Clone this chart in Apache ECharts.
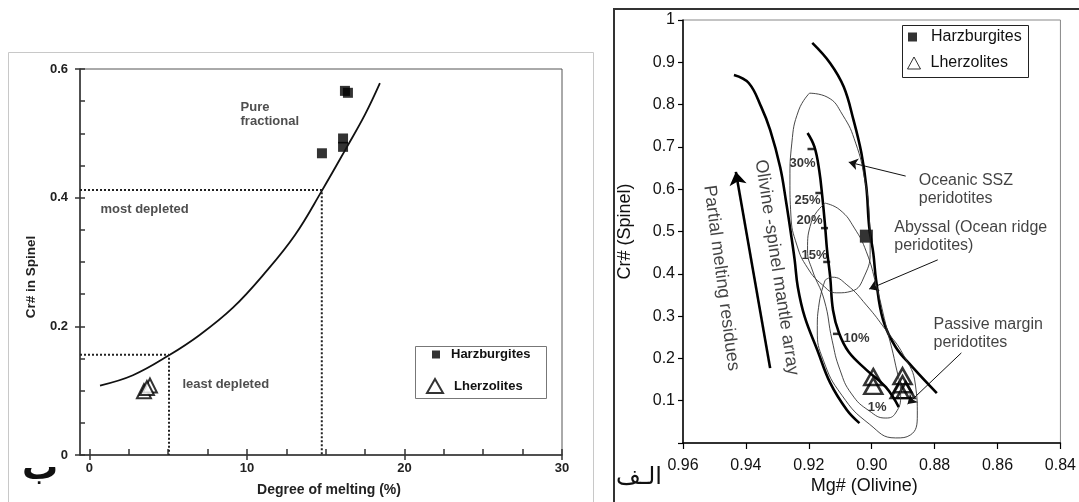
<!DOCTYPE html>
<html><head><meta charset="utf-8">
<script src="https://cdn.jsdelivr.net/npm/echarts@6/dist/echarts.min.js"></script>
<style>html,body{margin:0;padding:0;background:#fff;}#c{width:1079px;height:502px;}</style>
</head><body><div id="c"></div>
<script>
const FONT = "'Liberation Sans', Arial, Helvetica, sans-serif";
const AR_FONT = "'DejaVu Sans', sans-serif";

// ---------- Panel ب (left): Cr# in spinel vs degree of melting ----------
const meltXLabels = [0, 10, 20, 30];
const meltXTicks = [0, 2.5, 5, 7.5, 10, 12.5, 15, 17.5, 20, 22.5, 25, 27.5, 30];
const crYLabels = [0, 0.2, 0.4, 0.6];
const crYTicks = [0, 0.05, 0.1, 0.15, 0.2, 0.25, 0.3, 0.35, 0.4, 0.45, 0.5, 0.55, 0.6];
const fractionalCurve = [[0.67,0.108],[2.76,0.124],[5.05,0.155],[7.02,0.187],[9.11,0.229],[11.14,0.283],[13.05,0.342],[14.76,0.411],[16.35,0.479],[17.49,0.529],[18.44,0.578]];
const mostDepleted = [[-0.6,0.412],[14.75,0.412],[14.75,0]];
const leastDepleted = [[-0.6,0.156],[5.05,0.156],[5.05,0]];
const harzLeft = [[16.22,0.566],[16.41,0.563],[14.76,0.469],[16.10,0.492],[16.10,0.479]];
const lherzLeft = [[3.46,0.099],[3.84,0.108],[3.65,0.104]];
const leftNotes = [
  {text: 'Pure\nfractional', pos: [9.56, 0.529]},
  {text: 'most depleted', pos: [0.67, 0.382]},
  {text: 'least depleted', pos: [5.87, 0.110]}
];

// ---------- Panel الف (right): Cr# (spinel) vs Mg# (olivine) ----------
const mgLabels = [0.84, 0.86, 0.88, 0.90, 0.92, 0.94, 0.96];
const crLabels = [0.1, 0.2, 0.3, 0.4, 0.5, 0.6, 0.7, 0.8, 0.9, 1];
const osmaLeft = [[0.9438,0.870],[0.9391,0.851],[0.9351,0.794],[0.9323,0.740],[0.9291,0.652],[0.9273,0.574],[0.9257,0.496],[0.9245,0.433],[0.9235,0.369],[0.9213,0.298],[0.9173,0.220],[0.9132,0.142],[0.9079,0.078],[0.9039,0.047]];
const osmaRight = [[0.9189,0.946],[0.9132,0.898],[0.9089,0.842],[0.9058,0.764],[0.9033,0.686],[0.9017,0.605],[0.9008,0.511],[0.8995,0.449],[0.8986,0.385],[0.8964,0.291],[0.8924,0.227],[0.8871,0.180],[0.8793,0.118]];
const meltingTrend = [[0.9204,0.733],[0.9182,0.700],[0.9167,0.645],[0.9157,0.582],[0.9148,0.511],[0.9142,0.456],[0.9132,0.392],[0.9123,0.314],[0.9104,0.260],[0.9073,0.215],[0.9017,0.173],[0.8955,0.132],[0.8914,0.085]];
const fieldSSZ = [[0.9198,0.827],[0.9142,0.818],[0.9092,0.775],[0.9051,0.709],[0.9023,0.626],[0.9008,0.539],[0.9005,0.456],[0.9023,0.395],[0.9064,0.359],[0.9111,0.355],[0.9157,0.374],[0.9204,0.414],[0.9238,0.468],[0.9257,0.539],[0.9260,0.622],[0.9254,0.709],[0.9232,0.787],[0.9198,0.827]];
const fieldAbyssal = [[0.9148,0.567],[0.9101,0.551],[0.9055,0.508],[0.9017,0.452],[0.8986,0.374],[0.8955,0.279],[0.8924,0.184],[0.8908,0.113],[0.8924,0.071],[0.8955,0.059],[0.9008,0.076],[0.9064,0.116],[0.9101,0.173],[0.9126,0.243],[0.9151,0.338],[0.9189,0.409],[0.9204,0.456],[0.9192,0.522],[0.9148,0.567]];
const fieldPassive = [[0.9148,0.385],[0.9167,0.331],[0.9173,0.267],[0.9154,0.196],[0.9095,0.113],[0.9008,0.045],[0.8924,0.012],[0.8877,0.019],[0.8855,0.066],[0.8861,0.137],[0.8899,0.208],[0.8955,0.267],[0.9017,0.326],[0.9079,0.374],[0.9126,0.392],[0.9148,0.385]];
const harzRight = [[0.9017,0.489]];
const lherzRight = [[0.8995,0.156],[0.8995,0.135],[0.8902,0.158],[0.8902,0.139],[0.8911,0.125],[0.8892,0.125]];
const meltTickMarks = [[0.9182,0.695],[0.9157,0.591],[0.9139,0.508],[0.9132,0.428],[0.9101,0.258]];
const meltPctLabels = ['30%','25%','20%','15%','10%','1%'];
const meltPctPos = [[0.9220,0.662],[0.9204,0.574],[0.9198,0.527],[0.9182,0.444],[0.9048,0.248],[0.8983,0.083]];
const trendArrow = [[0.9323,0.177],[0.9432,0.641]];
const fieldArrows = [
  [[0.8892,0.631],[0.9073,0.664]],
  [[0.8790,0.433],[0.9008,0.364]],
  [[0.8715,0.213],[0.8886,0.092]]
];
const fieldNotes = [
  {text: 'Oceanic SSZ\nperidotites', pos: [0.8852, 0.599]},
  {text: 'Abyssal (Ocean ridge\nperidotites)', pos: [0.8930, 0.487]},
  {text: 'Passive margin\nperidotites', pos: [0.8805, 0.258]}
];
const rotatedNotes = [
  {text: 'Olivine -spinel mantle array', pos: [0.9302, 0.415], rot: -81.4},
  {text: 'Partial melting residues', pos: [0.9478, 0.390], rot: -82.5}
];

const chart = echarts.init(document.getElementById('c'), null, {renderer: 'canvas'});
const blk = '#111';
const leftTxt = {fontFamily: FONT, fontWeight: 'bold', fontSize: 13, color: '#222'};
const rightTxt = {fontFamily: FONT, fontSize: 16, color: blk};

const option = {
  backgroundColor: '#fff',
  animation: false,
  grid: [
    {left: 80, top: 69, width: 482, height: 388, show: true, borderColor: '#555', borderWidth: 1, backgroundColor: 'transparent'},
    {left: 683, top: 20, width: 385, height: 423, show: true, borderColor: '#888', borderWidth: 1, backgroundColor: 'transparent'}
  ],
  xAxis: [
    {gridIndex: 0, type: 'value', min: -0.6, max: 30, position: 'bottom',
     name: 'Degree of melting (%)', nameLocation: 'middle', nameGap: 28, nameMoveOverlap: false,
     nameTextStyle: Object.assign({}, leftTxt, {fontSize: 14, padding: [0,0,0,16]}),
     axisLine: {show: true, onZero: false, lineStyle: {color: '#333', width: 1.5}},
     axisTick: {show: true, inside: true, length: 6, customValues: meltXTicks, lineStyle: {color: '#333', width: 1.5}},
     axisLabel: Object.assign({show: true, margin: 7, customValues: meltXLabels, formatter: v => String(v)}, leftTxt),
     splitLine: {show: false}},
    {gridIndex: 0, type: 'value', min: -0.6, max: 30, position: 'bottom',
     axisLine: {show: false, onZero: false},
     axisTick: {show: true, inside: false, length: 5, customValues: meltXLabels, lineStyle: {color: '#333', width: 1.5}},
     axisLabel: {show: false}, splitLine: {show: false}},
    {gridIndex: 1, type: 'value', min: 0.84, max: 0.96, interval: 0.02, inverse: true, position: 'bottom',
     name: 'Mg# (Olivine)', nameLocation: 'middle', nameGap: 34, nameMoveOverlap: false,
     nameTextStyle: {fontFamily: FONT, fontSize: 18, color: blk, padding: [0,15,0,0]},
     axisLine: {show: true, onZero: false, lineStyle: {color: '#000', width: 1.5}},
     axisTick: {show: true, inside: false, length: 6, lineStyle: {color: '#000', width: 1.2}},
     axisLabel: Object.assign({margin: 15, formatter: v => v.toFixed(2)}, rightTxt),
     splitLine: {show: false}}
  ],
  yAxis: [
    {gridIndex: 0, type: 'value', min: 0, max: 0.6, position: 'left',
     name: 'Cr# in Spinel', nameLocation: 'middle', nameGap: 42, nameMoveOverlap: false,
     nameTextStyle: Object.assign({}, leftTxt, {fontSize: 13.5, padding: [0,30,0,0]}),
     axisLine: {show: true, onZero: false, lineStyle: {color: '#333', width: 1.5}},
     axisTick: {show: true, inside: true, length: 5, customValues: crYTicks, lineStyle: {color: '#333', width: 1.5}},
     axisLabel: Object.assign({margin: 12, customValues: crYLabels, formatter: v => (v === 0 ? '0' : v.toFixed(1))}, leftTxt),
     splitLine: {show: false}},
    {gridIndex: 0, type: 'value', min: 0, max: 0.6, position: 'left',
     axisLine: {show: false, onZero: false},
     axisTick: {show: true, inside: false, length: 5, customValues: crYLabels, lineStyle: {color: '#333', width: 1.5}},
     axisLabel: {show: false}, splitLine: {show: false}},
    {gridIndex: 1, type: 'value', min: 0, max: 1, interval: 0.1, position: 'left',
     name: 'Cr# (Spinel)', nameLocation: 'middle', nameGap: 49, nameMoveOverlap: false,
     nameTextStyle: {fontFamily: FONT, fontSize: 18, color: blk},
     axisLine: {show: true, onZero: false, lineStyle: {color: '#000', width: 1.5}},
     axisTick: {show: true, inside: false, length: 5, lineStyle: {color: '#000', width: 1.2}},
     axisLabel: Object.assign({margin: 8, formatter: v => (v === 0 ? '' : (Math.abs(v - 1) < 1e-9 ? '1' : v.toFixed(1)))}, rightTxt),
     splitLine: {show: false}}
  ],
  legend: [
    {left: 432, top: 348, padding: 0, itemWidth: 8, itemHeight: 8, selectedMode: false,
     data: [{name: 'Harzburgites', icon: 'rect', itemStyle: {color: '#000', borderWidth: 0}}],
     textStyle: Object.assign({}, leftTxt, {color: '#111', padding: [0,0,0,6]})},
    {left: 426, top: 378, padding: 0, itemWidth: 16, itemHeight: 14, selectedMode: false,
     data: [{name: 'Lherzolites', icon: 'triangle', itemStyle: {color: '#fff', borderColor: '#000', borderWidth: 2}}],
     textStyle: Object.assign({}, leftTxt, {color: '#111', padding: [0,0,0,6]})},
    {left: 908, top: 29, padding: 0, itemWidth: 9, itemHeight: 9, selectedMode: false,
     data: [{name: 'Harzburgites', icon: 'rect', itemStyle: {color: '#000', borderWidth: 0}}],
     textStyle: Object.assign({}, rightTxt, {padding: [0,0,0,9]})},
    {left: 907, top: 55, padding: 0, itemWidth: 13, itemHeight: 12, selectedMode: false,
     data: [{name: 'Lherzolites', icon: 'triangle', itemStyle: {color: '#fff', borderColor: '#000', borderWidth: 1}}],
     textStyle: Object.assign({}, rightTxt, {padding: [0,0,0,5]})}
  ],
  graphic: [
    {type: 'rect', z: -10, shape: {x: 8.5, y: 52.5, width: 585, height: 480}, style: {fill: 'none', stroke: '#c8c8c8', lineWidth: 1}},
    {type: 'rect', z: -10, shape: {x: 614, y: 9, width: 480, height: 520}, style: {fill: 'none', stroke: '#333', lineWidth: 2}},
    {type: 'rect', z: 5, shape: {x: 415.5, y: 346.5, width: 131, height: 52}, style: {fill: 'none', stroke: '#777', lineWidth: 1}},
    {type: 'rect', z: 5, shape: {x: 902.5, y: 25.5, width: 126, height: 52}, style: {fill: 'none', stroke: '#222', lineWidth: 1}},
    {type: 'text', z: 10, x: 40, y: 470, style: {text: 'ب', font: 'bold 36px ' + AR_FONT, fill: '#111', align: 'center', verticalAlign: 'middle'}},
    {type: 'text', z: 10, x: 639, y: 478, style: {text: 'الـف', font: '24px ' + AR_FONT, fill: '#111', align: 'center', verticalAlign: 'middle'}}
  ],
  series: [
    // ----- left panel -----
    {type: 'line', name: 'Pure fractional', xAxisIndex: 0, yAxisIndex: 0, data: fractionalCurve, smooth: 0.4, symbol: 'none', lineStyle: {color: '#111', width: 1.8}},
    {type: 'line', name: 'most depleted', xAxisIndex: 0, yAxisIndex: 0, data: mostDepleted, symbol: 'none', lineStyle: {color: '#222', width: 2, type: [2, 2]}},
    {type: 'line', name: 'least depleted', xAxisIndex: 0, yAxisIndex: 0, data: leastDepleted, symbol: 'none', lineStyle: {color: '#222', width: 2, type: [2, 2]}},
    {type: 'scatter', name: 'Harzburgites', xAxisIndex: 0, yAxisIndex: 0, data: harzLeft, symbol: 'rect', symbolSize: 10, itemStyle: {color: '#000'}},
    {type: 'scatter', name: 'Lherzolites', xAxisIndex: 0, yAxisIndex: 0, data: lherzLeft, symbol: 'triangle', symbolSize: 14, itemStyle: {color: '#fff', borderColor: '#000', borderWidth: 2}},
    {type: 'scatter', name: 'leftNotes', xAxisIndex: 0, yAxisIndex: 0, symbolSize: 1, itemStyle: {color: 'rgba(0,0,0,0)'},
     data: leftNotes.map(n => ({value: n.pos, label: {show: true, formatter: n.text, position: 'right', distance: 0, align: 'left', verticalAlign: 'middle', lineHeight: 14, fontFamily: FONT, fontWeight: 'bold', fontSize: 13, color: '#222'}}))},
    // ----- right panel -----
    {type: 'line', name: 'osmaLeft', xAxisIndex: 2, yAxisIndex: 2, data: osmaLeft, smooth: 0.4, symbol: 'none', lineStyle: {color: '#000', width: 2.6}},
    {type: 'line', name: 'osmaRight', xAxisIndex: 2, yAxisIndex: 2, data: osmaRight, smooth: 0.4, symbol: 'none', lineStyle: {color: '#000', width: 2.6}},
    {type: 'line', name: 'meltingTrend', xAxisIndex: 2, yAxisIndex: 2, data: meltingTrend, smooth: 0.4, symbol: 'none', lineStyle: {color: '#000', width: 2.6}},
    {type: 'line', name: 'SSZ', xAxisIndex: 2, yAxisIndex: 2, data: fieldSSZ, smooth: 0.5, symbol: 'none', lineStyle: {color: '#333', width: 0.9}},
    {type: 'line', name: 'Abyssal', xAxisIndex: 2, yAxisIndex: 2, data: fieldAbyssal, smooth: 0.5, symbol: 'none', lineStyle: {color: '#333', width: 0.9}},
    {type: 'line', name: 'Passive', xAxisIndex: 2, yAxisIndex: 2, data: fieldPassive, smooth: 0.5, symbol: 'none', lineStyle: {color: '#333', width: 0.9}},
    {type: 'lines', name: 'trendArrow', coordinateSystem: 'cartesian2d', xAxisIndex: 2, yAxisIndex: 2,
     symbol: ['none', 'arrow'], symbolSize: 13, lineStyle: {color: '#000', width: 2.6, curveness: 0, opacity: 1},
     data: [{coords: trendArrow}]},
    {type: 'lines', name: 'fieldArrows', coordinateSystem: 'cartesian2d', xAxisIndex: 2, yAxisIndex: 2,
     symbol: ['none', 'arrow'], symbolSize: 9, lineStyle: {color: '#111', width: 1, curveness: 0, opacity: 1},
     data: fieldArrows.map(c => ({coords: c}))},
    {type: 'scatter', name: 'meltTicks', xAxisIndex: 2, yAxisIndex: 2, data: meltTickMarks, symbol: 'rect', symbolSize: [7, 2.5], symbolOffset: [-3.5, 0], itemStyle: {color: '#000'}},
    {type: 'scatter', name: 'Harzburgites', xAxisIndex: 2, yAxisIndex: 2, data: harzRight, symbol: 'rect', symbolSize: 13, itemStyle: {color: '#000'}},
    {type: 'scatter', name: 'Lherzolites', xAxisIndex: 2, yAxisIndex: 2, data: lherzRight, symbol: 'triangle', symbolSize: [18, 16], itemStyle: {color: 'rgba(255,255,255,0)', borderColor: '#000', borderWidth: 2.5}},
    {type: 'scatter', name: 'pctNotes', xAxisIndex: 2, yAxisIndex: 2, symbolSize: 1, itemStyle: {color: 'rgba(0,0,0,0)'},
     data: meltPctPos.map((p, i) => ({value: p, label: {show: true, formatter: meltPctLabels[i], position: 'inside', align: 'center', verticalAlign: 'middle', fontFamily: FONT, fontWeight: 'bold', fontSize: 13, color: '#000'}}))},
    {type: 'scatter', name: 'fieldNotes', xAxisIndex: 2, yAxisIndex: 2, symbolSize: 1, itemStyle: {color: 'rgba(0,0,0,0)'},
     data: fieldNotes.map(n => ({value: n.pos, label: {show: true, formatter: n.text, position: 'right', distance: 0, align: 'left', verticalAlign: 'middle', lineHeight: 18, fontFamily: FONT, fontSize: 16, color: blk}}))},
    {type: 'scatter', name: 'rotNotes', xAxisIndex: 2, yAxisIndex: 2, symbolSize: 1, itemStyle: {color: 'rgba(0,0,0,0)'},
     data: rotatedNotes.map(n => ({value: n.pos, label: {show: true, formatter: n.text, position: 'inside', align: 'center', verticalAlign: 'middle', rotate: n.rot, fontFamily: FONT, fontSize: 18, color: blk}}))}
  ]
};
chart.setOption(option);
</script>
</body></html>
